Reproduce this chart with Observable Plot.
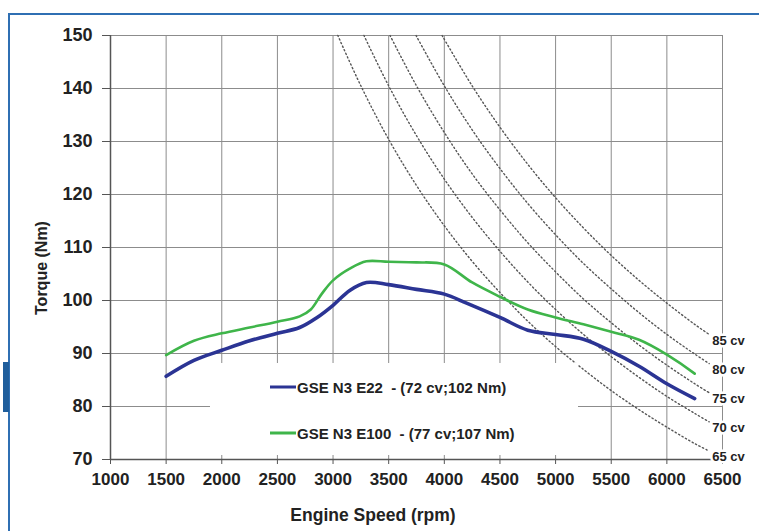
<!DOCTYPE html>
<html><head><meta charset="utf-8">
<script src="https://cdn.jsdelivr.net/npm/d3@7"></script>
<script src="https://cdn.jsdelivr.net/npm/@observablehq/plot@0.6"></script>
<style>
html,body{margin:0;padding:0;background:#fff;}
#wrap{position:relative;width:759px;height:531px;overflow:hidden;font-family:"Liberation Sans",Arial,sans-serif;}
#chart{position:absolute;left:0;top:0;}
#frameTop{position:absolute;left:8px;top:13px;width:760px;height:0;border-top:2.5px solid #2f6fb3;}
#frameLeft{position:absolute;left:8px;top:13px;width:0;height:530px;border-left:2.5px solid #2f6fb3;}
#tab{position:absolute;left:3px;top:362px;width:6px;height:50px;background:#1f5e9c;}
#legend{position:absolute;left:210px;top:363px;width:368px;height:92px;background:#fff;}
.row{position:absolute;left:60px;display:flex;align-items:center;font-weight:bold;font-size:15px;color:#222;white-space:pre;transform:translateY(-50%);}
.sw{width:26px;height:3.5px;margin-right:1px;}
#ylab{position:absolute;left:42px;top:268px;transform:translate(-50%,-50%) rotate(-90deg);font-weight:bold;font-size:16px;white-space:nowrap;color:#222;}
#xlab{position:absolute;left:373px;top:515px;transform:translate(-50%,-50%);font-weight:bold;font-size:17.5px;white-space:nowrap;color:#222;}
</style>
</head>
<body>
<div id="wrap">
  <div id="chart"></div>
  <div id="frameTop"></div>
  <div id="frameLeft"></div>
  <div id="tab"></div>
  <div id="legend"></div>
  <div id="ylab"></div>
  <div id="xlab"></div>
</div>
<script>
// ---- data ----
const xTicks = [1000, 1500, 2000, 2500, 3000, 3500, 4000, 4500, 5000, 5500, 6000, 6500];
const yTicks = [70, 80, 90, 100, 110, 120, 130, 140, 150];

const seriesNames = ["GSE N3 E22  - (72 cv;102 Nm)", "GSE N3 E100  - (77 cv;107 Nm)"];
const seriesColors = ["#2b3494", "#3fb54a"];

const e22Rpm =    [1500, 1750, 2000, 2250, 2500, 2700, 2850, 3000, 3150, 3300, 3500, 3750, 4000, 4200, 4500, 4750, 5000, 5250, 5500, 5750, 6000, 6250];
const e22Torque = [85.7, 88.7, 90.6, 92.4, 93.8, 94.9, 96.7, 99.1, 101.9, 103.4, 103.0, 102.1, 101.2, 99.5, 96.8, 94.4, 93.6, 92.7, 90.4, 87.6, 84.3, 81.5];

const e100Rpm =    [1500, 1750, 2000, 2250, 2500, 2700, 2800, 2900, 3000, 3150, 3300, 3500, 3750, 4000, 4250, 4500, 4750, 5000, 5250, 5500, 5750, 6000, 6250];
const e100Torque = [89.7, 92.4, 93.8, 94.9, 96.0, 97.0, 98.3, 101.3, 103.8, 106.0, 107.4, 107.3, 107.2, 106.8, 103.4, 100.7, 98.3, 96.8, 95.5, 94.1, 92.6, 89.8, 86.2];

// constant-power reference curves
const powerLabels = ["65 cv", "70 cv", "75 cv", "80 cv", "85 cv"];
const cv65Rpm = [3043, 3250, 3500, 3750, 4000, 4250, 4500, 4750, 5000, 5250, 5500, 5750, 6000, 6250, 6380];
const cv65Torque = [150, 140.5, 130.4, 121.7, 114.1, 107.4, 101.5, 96.1, 91.3, 87.0, 83.0, 79.4, 76.1, 73.0, 71.6];
const cv70Rpm = [3278, 3500, 3750, 4000, 4250, 4500, 4750, 5000, 5250, 5500, 5750, 6000, 6250, 6380];
const cv70Torque = [150, 140.5, 131.1, 122.9, 115.7, 109.3, 103.5, 98.3, 93.6, 89.4, 85.5, 81.9, 78.7, 77.1];
const cv75Rpm = [3512, 3750, 4000, 4250, 4500, 4750, 5000, 5250, 5500, 5750, 6000, 6250, 6380];
const cv75Torque = [150, 140.5, 131.7, 123.9, 117.1, 110.9, 105.4, 100.3, 95.8, 91.6, 87.8, 84.3, 82.6];
const cv80Rpm = [3746, 4000, 4250, 4500, 4750, 5000, 5250, 5500, 5750, 6000, 6250, 6380];
const cv80Torque = [150, 140.5, 132.2, 124.9, 118.3, 112.4, 107.0, 102.2, 97.7, 93.6, 89.9, 88.1];
const cv85Rpm = [3980, 4250, 4500, 4750, 5000, 5250, 5500, 5750, 6000, 6250, 6380];
const cv85Torque = [150, 140.5, 132.7, 125.7, 119.4, 113.7, 108.5, 103.8, 99.5, 95.5, 93.6];

const yLabel = "Torque (Nm)";
const xLabel = "Engine Speed (rpm)";

// ---- tables ----
const toRows = (rpm, tq, key) => rpm.map((r, i) => ({rpm: r, torque: tq[i], key}));
const e22 = toRows(e22Rpm, e22Torque, seriesNames[0]);
const e100 = toRows(e100Rpm, e100Torque, seriesNames[1]);
const powerSets = [[cv65Rpm, cv65Torque], [cv70Rpm, cv70Torque], [cv75Rpm, cv75Torque], [cv80Rpm, cv80Torque], [cv85Rpm, cv85Torque]];
const power = powerSets.flatMap(([r, t], i) => toRows(r, t, powerLabels[i]));

const chart = Plot.plot({
  width: 759,
  height: 531,
  marginLeft: 110,
  marginRight: 37,
  marginTop: 35,
  marginBottom: 72,
  x: {domain: [1000, 6500]},
  y: {domain: [70, 150]},
  style: {fontFamily: '"Liberation Sans", Arial, sans-serif', fontWeight: "bold", fontSize: "17px", color: "#222", background: "transparent"},
  marks: [
    Plot.gridX(xTicks, {stroke: "#8c8c8c", strokeOpacity: 1, strokeWidth: 1}),
    Plot.gridY(yTicks, {stroke: "#8c8c8c", strokeOpacity: 1, strokeWidth: 1}),
    Plot.line(power, {x: "rpm", y: "torque", z: "key", stroke: "#555", strokeWidth: 1.4, strokeDasharray: "1.3,2.6", curve: "catmull-rom"}),
    Plot.ruleX([1000], {stroke: "#555", strokeWidth: 1.5}),
    Plot.ruleY([70], {stroke: "#555", strokeWidth: 1.5}),
    Plot.axisY(yTicks, {tickSize: 8, tickPadding: 10, fontSize: 18, label: null, stroke: "#555", tickFormat: "d"}),
    Plot.axisX(xTicks, {tickSize: 5, tickPadding: 8, fontSize: 17, label: null, stroke: "#555", tickFormat: "d"}),
    Plot.line(e100, {x: "rpm", y: "torque", stroke: seriesColors[1], strokeWidth: 2.6, curve: "catmull-rom"}),
    Plot.line(e22, {x: "rpm", y: "torque", stroke: seriesColors[0], strokeWidth: 3.6, curve: "catmull-rom"}),
    Plot.text(power, Plot.selectLast({x: "rpm", y: "torque", z: "key", text: "key", textAnchor: "start", dx: 3, dy: 6, fontSize: 13, fill: "#222", stroke: "white", strokeWidth: 5}))
  ]
});
document.getElementById("chart").appendChild(chart);

// legend
const leg = document.getElementById("legend");
const rowTops = [24, 70];
seriesNames.forEach((name, i) => {
  const row = document.createElement("div");
  row.className = "row";
  row.style.top = rowTops[i] + "px";
  const sw = document.createElement("span");
  sw.className = "sw";
  sw.style.background = seriesColors[i];
  const tx = document.createElement("span");
  tx.textContent = name;
  row.appendChild(sw);
  row.appendChild(tx);
  leg.appendChild(row);
});
document.getElementById("ylab").textContent = yLabel;
document.getElementById("xlab").textContent = xLabel;
</script>
</body></html>
